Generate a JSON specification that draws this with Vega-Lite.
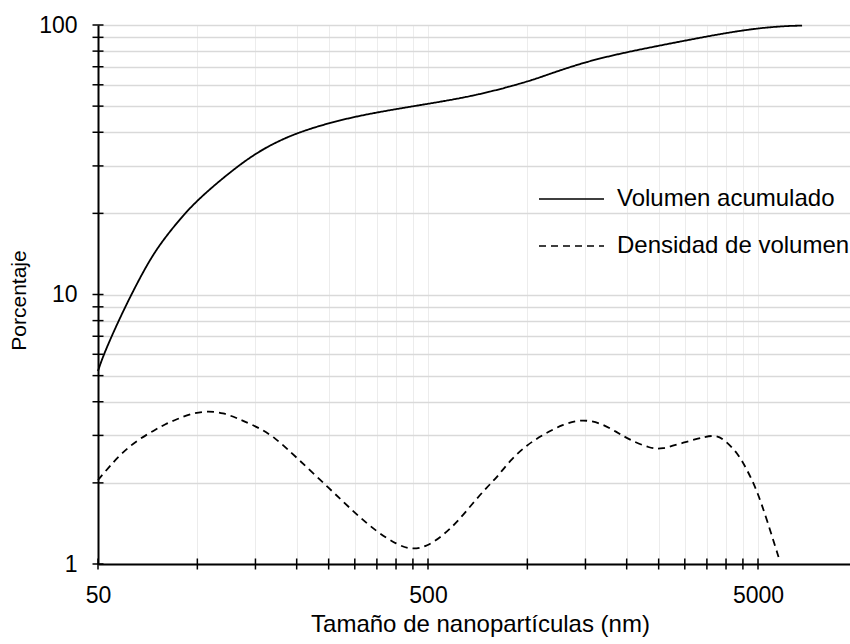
{
  "$schema": "https://vega.github.io/schema/vega-lite/v6.json",
  "width": 752,
  "height": 539,
  "autosize": {"type": "none"},
  "padding": {"left": 98, "top": 25, "right": 0, "bottom": 80},
  "background": "white",
  "config": {
    "view": {"stroke": null},
    "font": "Liberation Sans",
    "axis": {"labelColor": "black", "titleColor": "black", "titleFontWeight": "normal", "labelFont": "Liberation Sans", "titleFont": "Liberation Sans"},
    "axisY": {"titleFontSize": 21},
    "legend": {"labelFont": "Liberation Sans"}
  },
  "datasets": {
    "curves": [
      {"size": 50, "pct": 5.2, "serie": "Volumen acumulado"},
      {"size": 52, "pct": 6.0, "serie": "Volumen acumulado"},
      {"size": 59, "pct": 8.5, "serie": "Volumen acumulado"},
      {"size": 69, "pct": 12.4, "serie": "Volumen acumulado"},
      {"size": 77, "pct": 15.4, "serie": "Volumen acumulado"},
      {"size": 89, "pct": 19.2, "serie": "Volumen acumulado"},
      {"size": 102, "pct": 23, "serie": "Volumen acumulado"},
      {"size": 135, "pct": 30.6, "serie": "Volumen acumulado"},
      {"size": 163, "pct": 35.5, "serie": "Volumen acumulado"},
      {"size": 204, "pct": 40.3, "serie": "Volumen acumulado"},
      {"size": 290, "pct": 45.5, "serie": "Volumen acumulado"},
      {"size": 410, "pct": 49, "serie": "Volumen acumulado"},
      {"size": 500, "pct": 51, "serie": "Volumen acumulado"},
      {"size": 700, "pct": 54.7, "serie": "Volumen acumulado"},
      {"size": 1000, "pct": 61.5, "serie": "Volumen acumulado"},
      {"size": 1170, "pct": 65.9, "serie": "Volumen acumulado"},
      {"size": 1500, "pct": 73, "serie": "Volumen acumulado"},
      {"size": 2000, "pct": 79.4, "serie": "Volumen acumulado"},
      {"size": 3000, "pct": 87.5, "serie": "Volumen acumulado"},
      {"size": 4000, "pct": 93.5, "serie": "Volumen acumulado"},
      {"size": 5000, "pct": 97.3, "serie": "Volumen acumulado"},
      {"size": 6000, "pct": 99.1, "serie": "Volumen acumulado"},
      {"size": 6800, "pct": 99.5, "serie": "Volumen acumulado"},
      {"size": 50, "pct": 2.05, "serie": "Densidad de volumen"},
      {"size": 54, "pct": 2.29, "serie": "Densidad de volumen"},
      {"size": 59, "pct": 2.58, "serie": "Densidad de volumen"},
      {"size": 66, "pct": 2.89, "serie": "Densidad de volumen"},
      {"size": 74, "pct": 3.13, "serie": "Densidad de volumen"},
      {"size": 80, "pct": 3.31, "serie": "Densidad de volumen"},
      {"size": 87, "pct": 3.45, "serie": "Densidad de volumen"},
      {"size": 95, "pct": 3.6, "serie": "Densidad de volumen"},
      {"size": 106, "pct": 3.7, "serie": "Densidad de volumen"},
      {"size": 120, "pct": 3.64, "serie": "Densidad de volumen"},
      {"size": 133, "pct": 3.46, "serie": "Densidad de volumen"},
      {"size": 150, "pct": 3.25, "serie": "Densidad de volumen"},
      {"size": 171, "pct": 2.97, "serie": "Densidad de volumen"},
      {"size": 200, "pct": 2.48, "serie": "Densidad de volumen"},
      {"size": 252, "pct": 1.9, "serie": "Densidad de volumen"},
      {"size": 300, "pct": 1.547, "serie": "Densidad de volumen"},
      {"size": 350, "pct": 1.315, "serie": "Densidad de volumen"},
      {"size": 403, "pct": 1.18, "serie": "Densidad de volumen"},
      {"size": 445, "pct": 1.13, "serie": "Densidad de volumen"},
      {"size": 497, "pct": 1.16, "serie": "Densidad de volumen"},
      {"size": 556, "pct": 1.28, "serie": "Densidad de volumen"},
      {"size": 613, "pct": 1.43, "serie": "Densidad de volumen"},
      {"size": 683, "pct": 1.68, "serie": "Densidad de volumen"},
      {"size": 755, "pct": 1.93, "serie": "Densidad de volumen"},
      {"size": 810, "pct": 2.1, "serie": "Densidad de volumen"},
      {"size": 885, "pct": 2.42, "serie": "Densidad de volumen"},
      {"size": 998, "pct": 2.77, "serie": "Densidad de volumen"},
      {"size": 1117, "pct": 3.02, "serie": "Densidad de volumen"},
      {"size": 1282, "pct": 3.3, "serie": "Densidad de volumen"},
      {"size": 1450, "pct": 3.44, "serie": "Densidad de volumen"},
      {"size": 1650, "pct": 3.36, "serie": "Densidad de volumen"},
      {"size": 1865, "pct": 3.09, "serie": "Densidad de volumen"},
      {"size": 2040, "pct": 2.89, "serie": "Densidad de volumen"},
      {"size": 2350, "pct": 2.69, "serie": "Densidad de volumen"},
      {"size": 2550, "pct": 2.66, "serie": "Densidad de volumen"},
      {"size": 2960, "pct": 2.82, "serie": "Densidad de volumen"},
      {"size": 3500, "pct": 2.98, "serie": "Densidad de volumen"},
      {"size": 3750, "pct": 3.0, "serie": "Densidad de volumen"},
      {"size": 3950, "pct": 2.89, "serie": "Densidad de volumen"},
      {"size": 4330, "pct": 2.59, "serie": "Densidad de volumen"},
      {"size": 4630, "pct": 2.24, "serie": "Densidad de volumen"},
      {"size": 4960, "pct": 1.88, "serie": "Densidad de volumen"},
      {"size": 5320, "pct": 1.46, "serie": "Densidad de volumen"},
      {"size": 5815, "pct": 1.03, "serie": "Densidad de volumen"}
    ],
    "xticks": [
      {"size": 50}, {"size": 100}, {"size": 150}, {"size": 200}, {"size": 250}, {"size": 300}, {"size": 350}, {"size": 400}, {"size": 450}, {"size": 500},
      {"size": 1000}, {"size": 1500}, {"size": 2000}, {"size": 2500}, {"size": 3000}, {"size": 3500}, {"size": 4000}, {"size": 4500}, {"size": 5000}
    ],
    "yticks": [
      {"pct": 1}, {"pct": 2}, {"pct": 3}, {"pct": 4}, {"pct": 5}, {"pct": 6}, {"pct": 7}, {"pct": 8}, {"pct": 9}, {"pct": 10},
      {"pct": 20}, {"pct": 30}, {"pct": 40}, {"pct": 50}, {"pct": 60}, {"pct": 70}, {"pct": 80}, {"pct": 90}, {"pct": 100}
    ]
  },
  "layer": [
    {
      "data": {"name": "curves"},
      "mark": {"type": "line", "interpolate": "basis", "color": "black", "strokeWidth": 1.8},
      "encoding": {
        "x": {
          "field": "size", "type": "quantitative",
          "scale": {"type": "log", "domain": [50, 9500], "nice": false},
          "axis": {
            "values": [50, 100, 150, 200, 250, 300, 350, 400, 450, 500, 1000, 1500, 2000, 2500, 3000, 3500, 4000, 4500, 5000],
            "format": "d",
            "labelExpr": "datum.value == 50 || datum.value == 500 || datum.value == 5000 ? datum.label : ''",
            "labelOverlap": false, "labelBound": false, "labelFlush": false,
            "labelFontSize": 23, "labelPadding": 20,
            "ticks": false,
            "domainColor": "black", "domainWidth": 2,
            "grid": true, "gridColor": "#ececec", "gridWidth": 1,
            "title": "Tamaño de nanopartículas (nm)",
            "titleFontSize": 24, "titleX": 382, "titleY": 67, "titleBaseline": "alphabetic", "titleAlign": "center"
          }
        },
        "y": {
          "field": "pct", "type": "quantitative",
          "scale": {"type": "log", "domain": [1, 100], "nice": false},
          "axis": {
            "values": [1, 2, 3, 4, 5, 6, 7, 8, 9, 10, 20, 30, 40, 50, 60, 70, 80, 90, 100],
            "format": "d",
            "labelExpr": "datum.value == 1 || datum.value == 10 || datum.value == 100 ? datum.label : ''",
            "labelOverlap": false, "labelBound": false, "labelFlush": false,
            "labelFontSize": 23, "labelPadding": 21,
            "ticks": false,
            "domainColor": "black", "domainWidth": 2,
            "grid": true, "gridColor": "#d9d9d9", "gridWidth": 1.6,
            "title": "Porcentaje",
            "titleFontSize": 21, "titleX": -73, "titleY": 275, "titleBaseline": "alphabetic", "titleAlign": "center", "titleAngle": -90
          }
        },
        "strokeDash": {
          "field": "serie", "type": "nominal",
          "scale": {"domain": ["Volumen acumulado", "Densidad de volumen"], "range": [[1, 0], [7, 5]]},
          "legend": {
            "title": null, "orient": "none", "legendX": 440, "legendY": 160,
            "symbolType": "stroke", "symbolSize": 4225, "symbolStrokeColor": "black", "symbolStrokeWidth": 1.6,
            "clipHeight": 28, "rowPadding": 19, "labelOffset": 12, "labelFontSize": 24, "labelColor": "black", "padding": 0, "labelLimit": 400
          }
        }
      }
    },
    {
      "data": {"name": "xticks"},
      "mark": {"type": "tick", "orient": "vertical", "size": 11, "thickness": 1.5, "color": "black", "opacity": 1},
      "encoding": {
        "x": {"field": "size", "type": "quantitative", "scale": {"type": "log", "domain": [50, 9500], "nice": false}},
        "y": {"datum": 1, "type": "quantitative", "scale": {"type": "log", "domain": [1, 100], "nice": false}}
      }
    },
    {
      "data": {"name": "yticks"},
      "mark": {"type": "tick", "orient": "horizontal", "size": 11, "thickness": 1.5, "color": "black", "opacity": 1},
      "encoding": {
        "y": {"field": "pct", "type": "quantitative", "scale": {"type": "log", "domain": [1, 100], "nice": false}},
        "x": {"datum": 50, "type": "quantitative", "scale": {"type": "log", "domain": [50, 9500], "nice": false}}
      }
    }
  ]
}
